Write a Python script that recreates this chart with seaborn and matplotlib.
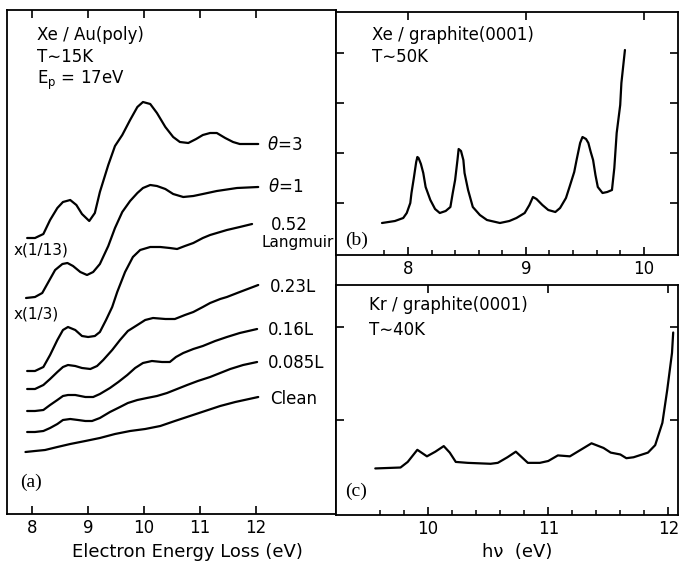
import seaborn as sns
import matplotlib.pyplot as plt
from matplotlib.ticker import FixedLocator, NullFormatter

# (a) Xe/Au(poly) EELS, energy loss (eV) vs intensity (arb. units)
theta3_ev = [7.91, 8.05, 8.20, 8.32, 8.45, 8.55, 8.68, 8.79, 8.89, 9.02, 9.12, 9.21, 9.36, 9.48, 9.61, 9.75,
             9.88, 9.98, 10.11, 10.23, 10.38, 10.52, 10.64, 10.79, 10.93, 11.05, 11.18, 11.30, 11.45, 11.59,
             11.71, 11.84, 12.04]
theta3 = [275, 275, 279, 293, 305, 311, 313, 308, 299, 292, 300, 321, 348, 367, 378, 393,
          406, 411, 409, 400, 386, 376, 371, 370, 374, 378, 380, 380, 375, 371, 369, 369, 369]

theta1_ev = [7.89, 8.05, 8.18, 8.29, 8.41, 8.54, 8.63, 8.73, 8.86, 8.98, 9.09, 9.21, 9.36, 9.48, 9.61, 9.75,
             9.88, 9.98, 10.11, 10.23, 10.38, 10.52, 10.70, 10.88, 11.05, 11.30, 11.66, 12.04]
theta1 = [215, 216, 220, 231, 243, 249, 250, 247, 241, 238, 241, 249, 267, 285, 301, 312,
          320, 325, 328, 327, 324, 319, 316, 317, 319, 322, 325, 326]

l052_ev = [7.91, 8.05, 8.20, 8.32, 8.45, 8.55, 8.64, 8.77, 8.89, 9.00, 9.12, 9.21, 9.32, 9.43, 9.52, 9.66,
           9.80, 9.93, 10.11, 10.29, 10.46, 10.59, 10.73, 10.88, 11.05, 11.18, 11.36, 11.48, 11.71, 11.93]
l052 = [142, 142, 146, 158, 173, 183, 186, 183, 177, 176, 177, 181, 193, 206, 221, 241,
        256, 263, 266, 266, 265, 264, 267, 270, 275, 278, 281, 283, 286, 289]

l023_ev = [7.91, 8.05, 8.20, 8.32, 8.45, 8.55, 8.64, 8.77, 8.89, 9.04, 9.16, 9.27, 9.43, 9.57, 9.71, 9.88,
           10.02, 10.16, 10.38, 10.55, 10.73, 10.88, 11.05, 11.18, 11.36, 11.48, 11.71, 12.04]
l023 = [124, 124, 128, 134, 141, 146, 148, 147, 145, 144, 147, 153, 163, 173, 182, 188,
        193, 195, 194, 194, 198, 201, 206, 210, 214, 216, 221, 228]

l016_ev = [7.91, 8.05, 8.20, 8.32, 8.45, 8.55, 8.64, 8.77, 8.95, 9.09, 9.21, 9.39, 9.54, 9.70, 9.84, 9.98,
           10.14, 10.32, 10.46, 10.57, 10.70, 10.88, 11.05, 11.27, 11.48, 11.71, 12.02]
l016 = [102, 102, 103, 108, 113, 117, 118, 118, 116, 116, 119, 125, 131, 138, 145, 150,
        152, 151, 151, 156, 160, 164, 167, 172, 176, 180, 184]

l0085_ev = [7.91, 8.05, 8.20, 8.32, 8.45, 8.55, 8.68, 8.82, 8.95, 9.07, 9.21, 9.39, 9.57, 9.71, 9.88, 10.05,
            10.23, 10.41, 10.59, 10.77, 10.96, 11.18, 11.36, 11.54, 11.77, 12.02]
l0085 = [81, 81, 82, 85, 89, 93, 94, 93, 92, 92, 95, 101, 106, 110, 113, 115,
         117, 120, 124, 128, 132, 136, 140, 144, 148, 151]

clean_ev = [7.88, 8.05, 8.23, 8.45, 8.68, 8.95, 9.21, 9.48, 9.75, 10.02, 10.29, 10.55, 10.82, 11.09, 11.36,
            11.63, 12.04]
clean = [61, 62, 63, 66, 69, 72, 75, 79, 82, 84, 87, 92, 97, 102, 107, 111, 116]

# (b) Xe/graphite(0001), photon energy (eV) vs intensity
xe_ev = [7.78, 7.89, 7.96, 7.99, 8.02, 8.03, 8.05, 8.07, 8.08, 8.09, 8.11, 8.13, 8.15, 8.19, 8.23, 8.27,
         8.32, 8.36, 8.38, 8.40, 8.42, 8.43, 8.45, 8.47, 8.48, 8.51, 8.55, 8.61, 8.67, 8.78, 8.86, 8.92,
         8.99, 9.03, 9.06, 9.09, 9.14, 9.19, 9.25, 9.29, 9.34, 9.37, 9.41, 9.43, 9.46, 9.48, 9.51, 9.53,
         9.55, 9.57, 9.59, 9.61, 9.65, 9.69, 9.73, 9.75, 9.77, 9.80, 9.81, 9.84]
xe = [0.60, 0.64, 0.70, 0.80, 1.00, 1.20, 1.50, 1.82, 1.92, 1.90, 1.78, 1.60, 1.32, 1.06, 0.88, 0.80,
      0.84, 0.92, 1.20, 1.46, 1.86, 2.08, 2.04, 1.86, 1.60, 1.26, 0.92, 0.76, 0.66, 0.60, 0.64, 0.70,
      0.80, 0.96, 1.12, 1.08, 0.96, 0.86, 0.82, 0.90, 1.10, 1.32, 1.62, 1.86, 2.20, 2.32, 2.28, 2.20,
      2.02, 1.86, 1.56, 1.32, 1.20, 1.22, 1.26, 1.70, 2.40, 2.96, 3.40, 4.06]

# (c) Kr/graphite(0001)
kr_ev = [9.56, 9.77, 9.83, 9.91, 9.99, 10.06, 10.13, 10.18, 10.23, 10.33, 10.52, 10.58, 10.66, 10.73, 10.78,
         10.83, 10.93, 11.00, 11.08, 11.18, 11.27, 11.36, 11.46, 11.52, 11.60, 11.65, 11.71, 11.83, 11.89,
         11.95, 11.99, 12.03, 12.04]
kr = [0.48, 0.49, 0.55, 0.68, 0.61, 0.66, 0.72, 0.65, 0.55, 0.54, 0.53, 0.54, 0.60, 0.66, 0.60,
      0.54, 0.54, 0.56, 0.62, 0.61, 0.68, 0.75, 0.70, 0.65, 0.63, 0.59, 0.60, 0.65, 0.73,
      0.97, 1.32, 1.72, 1.94]

sns.set_style("ticks", {"xtick.direction": "in", "ytick.direction": "in"})
plt.rcParams['font.family'] = ['DejaVu Sans']
plt.rcParams['mathtext.fontset'] = 'dejavusans'
plt.rcParams['text.color'] = 'black'
plt.rcParams['xtick.color'] = 'black'
plt.rcParams['ytick.color'] = 'black'

W, H = 680, 568
fig = plt.figure(figsize=(6.8, 5.68), dpi=100)


def box(l, t, r, b):
    return [l / W, 1 - b / H, (r - l) / W, (b - t) / H]


ax_a = fig.add_axes(box(7, 10, 336, 514))
ax_b = fig.add_axes(box(336, 12, 678, 255))
ax_c = fig.add_axes(box(336, 285, 678, 515))

for ax in (ax_a, ax_b, ax_c):
    for s in ax.spines.values():
        s.set_linewidth(1.3)
        s.set_color("black")
        s.set_visible(True)
    ax.tick_params(which="major", length=6, width=1.2, labelsize=12, colors="black")
    ax.tick_params(which="minor", length=3.5, width=1.1, top=False, colors="black")
    ax.tick_params(axis="x", top=True, bottom=True)

curves = [(theta3_ev, theta3), (theta1_ev, theta1), (l052_ev, l052), (l023_ev, l023),
          (l016_ev, l016), (l0085_ev, l0085), (clean_ev, clean)]
for xs, ys in curves:
    sns.lineplot(x=xs, y=ys, ax=ax_a, color="black", lw=1.6, estimator=None, sort=False)
sns.lineplot(x=xe_ev, y=xe, ax=ax_b, color="black", lw=1.6, estimator=None, sort=False)
sns.lineplot(x=kr_ev, y=kr, ax=ax_c, color="black", lw=1.6, estimator=None, sort=False)

# panel a
ax_a.set_xlim(7.55, 13.43)
ax_a.set_ylim(-1, 503)
ax_a.set_xticks([8, 9, 10, 11, 12], ["8", "9", "10", "11", "12"])
ax_a.set_yticks([])
lab = dict(fontsize=12, va="center", ha="left", color="black")
ax_a.text(8.09, 478, "Xe / Au(poly)", **lab)
ax_a.text(8.09, 456, "T\u223c15K", **lab)
ax_a.text(8.09, 433, "E$_\\mathrm{p}$ = 17eV", **lab)
ax_a.text(12.2, 368, "$\\theta$=3", **lab)
ax_a.text(12.21, 326, "$\\theta$=1", **lab)
ax_a.text(12.59, 288, "0.52", fontsize=12, va="center", ha="center", color="black")
ax_a.text(12.75, 271, "Langmuir", fontsize=11, va="center", ha="center", color="black")
ax_a.text(12.25, 226, "0.23L", **lab)
ax_a.text(12.21, 183, "0.16L", **lab)
ax_a.text(12.21, 150, "0.085L", **lab)
ax_a.text(12.25, 114, "Clean", **lab)
ax_a.text(7.66, 263, "x(1/13)", fontsize=11, va="center", ha="left", color="black")
ax_a.text(7.66, 199, "x(1/3)", fontsize=11, va="center", ha="left", color="black")
ax_a.text(7.78, 31, "(a)", fontsize=14, va="center", ha="left", family="Liberation Serif", color="black")

# panel b
ax_b.set_xlim(7.39, 10.29)
ax_b.set_ylim(-0.04, 4.82)
ax_b.set_xticks([8, 9, 10], ["8", "9", "10"])
ax_b.xaxis.set_minor_locator(FixedLocator([7.8, 8.2, 8.4, 8.6, 8.8, 9.2, 9.4, 9.6, 9.8]))
ax_b.xaxis.set_minor_formatter(NullFormatter())
ax_b.set_yticks([1, 2, 3, 4])
ax_b.tick_params(axis="y", left=True, right=True, labelleft=False)
ax_b.text(7.695, 4.36, "Xe / graphite(0001)", **lab)
ax_b.text(7.695, 3.92, "T\u223c50K", **lab)
ax_b.text(7.47, 0.26, "(b)", fontsize=14, va="center", ha="left", family="Liberation Serif", color="black")

# panel c
ax_c.set_xlim(9.233, 12.08)
ax_c.set_ylim(-0.02, 2.45)
ax_c.set_xticks([10, 11, 12], ["10", "11", "12"])
ax_c.xaxis.set_minor_locator(FixedLocator([9.6, 9.8, 10.2, 10.4, 10.6, 10.8, 11.2, 11.4, 11.6, 11.8]))
ax_c.xaxis.set_minor_formatter(NullFormatter())
ax_c.set_yticks([1, 2])
ax_c.tick_params(axis="y", left=True, right=True, labelleft=False)
ax_c.text(9.51, 2.24, "Kr / graphite(0001)", **lab)
ax_c.text(9.51, 1.97, "T\u223c40K", **lab)
ax_c.text(9.31, 0.23, "(c)", fontsize=14, va="center", ha="left", family="Liberation Serif", color="black")

fig.text(187 / W, 1 - 552 / H, "Electron Energy Loss (eV)", fontsize=13, ha="center", va="center", color="black")
fig.text(517 / W, 1 - 552 / H, "h\u03bd  (eV)", fontsize=13, ha="center", va="center", color="black")

fig.savefig("out.png", dpi=100, facecolor="white")
